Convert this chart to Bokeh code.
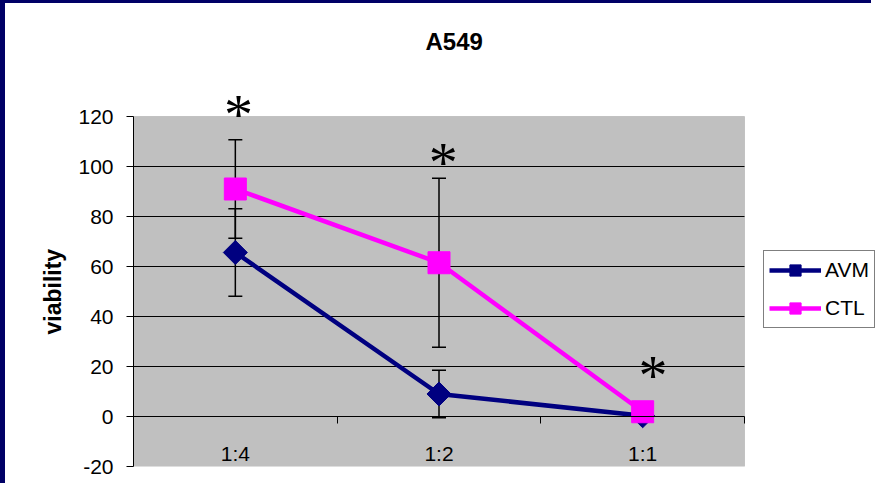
import math
from bokeh.plotting import figure
from bokeh.models import (ColumnDataSource, FixedTicker, LinearAxis, Whisker, TeeHead,
                          Legend, LegendItem, LabelSet, Range1d, BoxAnnotation, Title)
from bokeh.embed import file_html
from bokeh.resources import INLINE

# ---- data ----
categories = ["1:4", "1:2", "1:1"]
avm = [65.6, 9.0, 0.3]
avm_err = [17.5, 9.5, 0.5]
ctl = [91.0, 61.5, 1.9]
ctl_err = [19.7, 33.8, 0.8]
y_ticks = [-20, 0, 20, 40, 60, 80, 100, 120]
y_tick_labels = ["-20", "0", "20", "40", "60", "80", "100", "120"]
grid_ticks = [20, 40, 60, 80, 100]
star_pos = [0.515, 1.521, 2.551]
star_val = [123.5, 104.3, 19.1]
star_text = ["*", "*", "*"]

FONT = "Liberation Sans"
NAVY = "#000080"
MAGENTA = "#FF00FF"

# ---- layout constants (pixels) ----
W, H = 871, 483          # canvas (plus 5px/3px navy border = 876x486)
LEFT, TOP, BOTTOM = 128, 71, 20
PLOT_W = 611             # width of the grey plot area
PX_PER_UNIT = 2.5
Y_MIN, Y_MAX = y_ticks[0], y_ticks[-1]
Y_TOP = Y_MIN + (H - TOP - BOTTOM) / PX_PER_UNIT
N = len(categories)
X_MAX = N * (W - LEFT) / PLOT_W

x = [i + 0.5 for i in range(N)]

src_avm = ColumnDataSource(dict(
    x=x, y=avm,
    lower=[v - e for v, e in zip(avm, avm_err)],
    upper=[v + e for v, e in zip(avm, avm_err)]))
src_ctl = ColumnDataSource(dict(
    x=x, y=ctl,
    lower=[v - e for v, e in zip(ctl, ctl_err)],
    upper=[v + e for v, e in zip(ctl, ctl_err)]))
src_star = ColumnDataSource(dict(x=star_pos, y=star_val, t=star_text))

p = figure(width=W, height=H,
           x_range=Range1d(0, X_MAX), y_range=Range1d(Y_MIN, Y_TOP),
           output_backend="svg", toolbar_location=None, x_axis_location=None,
           min_border_left=LEFT, min_border_right=0,
           min_border_top=TOP, min_border_bottom=BOTTOM,
           background_fill_color="white", border_fill_color="white",
           outline_line_color=None)
p.styles = {"border-left": "5px solid #000066", "border-top": "3px solid #000066"}

# grey plot area (-20..120)
p.add_layout(BoxAnnotation(left=0, right=N, bottom=Y_MIN, top=Y_MAX,
                           fill_color="#C0C0C0", fill_alpha=1,
                           line_color="#808080", line_width=1, level="image"))

# title
p.title.text = "A549"
p.title.align = "left"
p.title.offset = 292
p.title.text_font = FONT
p.title.text_font_size = "24px"
p.title.text_font_style = "bold"
p.title.text_color = "black"
p.title.standoff = 40

# y axis
yax = p.yaxis[0]
yax.bounds = (Y_MIN, Y_MAX)
yax.ticker = FixedTicker(ticks=y_ticks)
yax.major_label_overrides = dict(zip(y_ticks, y_tick_labels))
yax.axis_line_color = "black"
yax.major_tick_line_color = "black"
yax.major_tick_out = 7
yax.major_tick_in = 0
yax.minor_tick_out = 0
yax.minor_tick_in = 0
yax.major_label_standoff = 13
yax.major_label_text_font = FONT
yax.major_label_text_font_size = "21px"
yax.major_label_text_color = "black"

# y axis title, centred on the grey plot area
p.add_layout(Title(text="viability", align="left", offset=132,
                   text_font=FONT, text_font_size="23px", text_font_style="bold",
                   text_color="black", standoff=19), "left")

# grid lines limited to the grey plot area
p.ygrid.visible = False
p.xgrid.visible = False
p.segment(x0=[0] * len(grid_ticks), x1=[N] * len(grid_ticks),
          y0=grid_ticks, y1=grid_ticks, line_color="black", line_width=1)

# category labels (drawn inside the frame, near the bottom of the grey area)
lab_ax = LinearAxis(
    ticker=FixedTicker(ticks=x),
    major_label_overrides={xi: c for xi, c in zip(x, categories)},
    axis_line_color=None, major_tick_line_color=None, minor_tick_line_color=None,
    major_tick_out=0, major_tick_in=0, minor_tick_out=0, minor_tick_in=0,
    major_label_standoff=-25,
    major_label_text_font=FONT, major_label_text_font_size="21px",
    major_label_text_color="black")
p.add_layout(lab_ax, "below")

# axis line at y = 0 with ticks at category boundaries
tick_ax = LinearAxis(
    fixed_location=0, bounds=(0, N),
    ticker=FixedTicker(ticks=[], minor_ticks=list(range(N + 1))),
    axis_line_color="black", axis_line_width=1,
    major_tick_line_color=None, major_tick_out=0, major_tick_in=0,
    minor_tick_line_color="black", minor_tick_out=7, minor_tick_in=0,
    major_label_standoff=0)
p.add_layout(tick_ax, "below")

# error bars
for src in (src_avm, src_ctl):
    w = Whisker(base="x", upper="upper", lower="lower", source=src,
                line_color="black", line_width=1.5,
                upper_head=TeeHead(size=14, line_color="black", line_width=1.5),
                lower_head=TeeHead(size=14, line_color="black", line_width=1.5))
    p.add_layout(w)

r_avm_line = p.line("x", "y", source=src_avm, line_color=NAVY, line_width=4.5)
r_avm_pt = p.scatter("x", "y", source=src_avm, marker="square", angle=math.pi / 4,
                     size=17, fill_color=NAVY, line_color=NAVY)
r_ctl_line = p.line("x", "y", source=src_ctl, line_color=MAGENTA, line_width=4.5)
r_ctl_pt = p.scatter("x", "y", source=src_ctl, marker="square", size=22,
                     fill_color=MAGENTA, line_color=MAGENTA)

# significance stars
stars = LabelSet(x="x", y="y", text="t", source=src_star,
                 text_font=FONT, text_font_size="58px", text_color="black",
                 text_align="center", text_baseline="middle", y_offset=-7)
p.add_layout(stars)

legend = Legend(items=[LegendItem(label="AVM", renderers=[r_avm_line, r_avm_pt]),
                       LegendItem(label="CTL", renderers=[r_ctl_line, r_ctl_pt])],
                location=(630, 138), orientation="vertical",
                border_line_color="black", border_line_width=1,
                background_fill_color="white", background_fill_alpha=1,
                label_text_font=FONT, label_text_font_size="21px",
                label_text_color="black",
                glyph_width=52, glyph_height=28, label_height=28,
                label_standoff=4, padding=5, spacing=10, margin=0)
p.add_layout(legend, "center")

open("out.html", "w").write(file_html(p, INLINE))
